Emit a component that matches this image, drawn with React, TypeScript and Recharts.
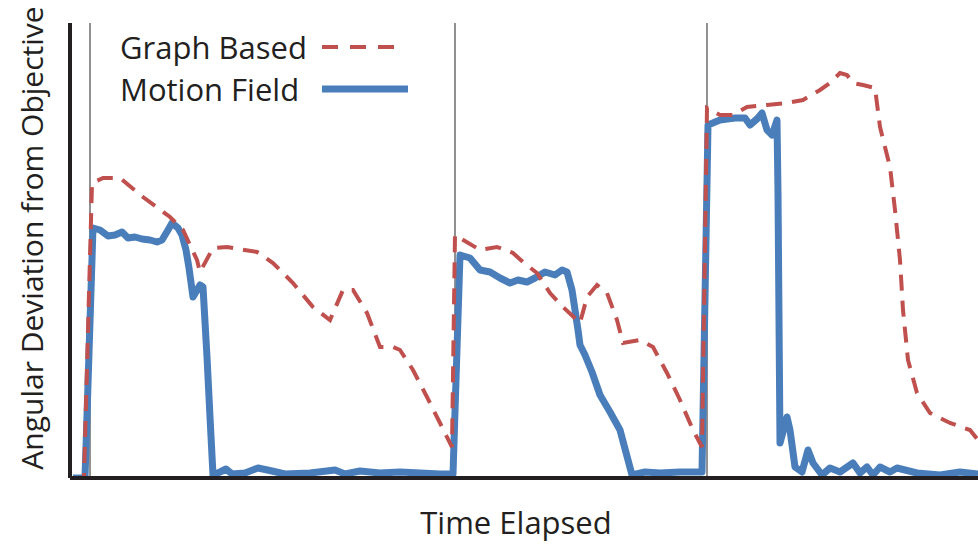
import { LineChart, Line, XAxis, YAxis, ReferenceLine, Label } from "recharts";

// time (arbitrary units) and angular deviation (arbitrary units)
const motionTime = [
  0.3, 1.5, 2.3, 3.0, 3.8, 4.5, 5.2, 5.8, 6.5, 7.2, 8.0, 8.7, 9.2, 9.8, 10.2, 10.8, 11.2, 11.6, 11.9, 12.3,
  13.0, 13.3, 13.7, 14.0, 14.3, 15.0, 15.6, 16.2, 17.5, 18.8, 20.2, 21.5, 24, 26.5, 27.5, 29, 31, 33, 35, 37,
  38.1, 38.3, 39.0, 40, 41, 42, 43, 44, 44.8, 45.7, 46.5, 47.5, 48.5, 49.2, 49.7, 50.2, 50.8, 51, 51.5, 52.2,
  53, 54, 55, 56.2, 57.5, 59, 61, 63.2, 63.8, 65, 66.5, 67.5, 68, 68.8, 69.2, 69.7, 70.2, 70.7, 70.8, 71,
  71.7, 72, 72.5, 73.2, 73.8, 74.3, 75.2, 76, 77, 78.3, 79, 79.7, 80.3, 81, 82, 82.7, 84.7, 87, 89, 90.8,
];
const motionValue = [
  0, 0, 50, 49.6, 48.4, 48.6, 49.2, 48, 48.2, 47.8, 47.6, 47.2, 47.6, 49.6, 51, 50, 48.6, 45.6, 42, 36.2,
  38.6, 38.2, 24.2, 12.2, 0.6, 1.2, 1.8, 0.8, 1, 2, 1.4, 0.8, 1, 1.6, 0.8, 1.4, 1, 1.2, 1, 0.8,
  0.8, 0.8, 44.6, 44, 41.6, 41.2, 40, 39, 39.6, 39.2, 40, 41.2, 40.6, 41.6, 41.2, 37.6, 29.6, 26.6, 24.6, 21.2,
  16.6, 13.2, 9.6, 0.6, 1.2, 1, 1.2, 1.2, 70.6, 71.6, 72, 72, 70.6, 72, 73, 69.6, 68.6, 71.6, 57, 7,
  12.2, 9.6, 2.2, 1.2, 5.6, 3, 0.6, 2, 1.2, 3, 1, 2.2, 0.6, 2.2, 1.2, 2, 1, 0.6, 1.2, 0.8,
];

const graphTime = [
  0.3, 1.4, 2.2, 3.3, 5, 7.3, 10, 11.3, 12.7, 13, 14.3, 15.7, 18.7, 20.3, 22.3, 24.3, 26, 27.3, 28.3, 29.7,
  31, 32.3, 33, 34.3, 35.7, 37, 38.2, 38.5, 41, 42.7, 44.3, 45.3, 46.7, 48, 49.3, 51, 51.7, 52.7, 53.7, 54.7,
  55.3, 57, 58.3, 59.7, 61, 62.3, 63.2, 63.7, 65, 66.3, 67.7, 69.7, 71.7, 73.3, 75, 76, 77, 77.7, 78.3, 79.3,
  80.5, 81, 82, 82.5, 83, 83.3, 83.8, 84.7, 86, 88, 90, 90.8,
];
const graphValue = [
  0, 0, 59, 60, 60, 56.2, 52.2, 49.6, 43.6, 41.2, 46, 46.2, 45.2, 43, 39, 34.2, 31.6, 37.6, 37.6, 33,
  26.2, 26.2, 25.6, 21.6, 16.2, 11, 6.2, 48.6, 45.6, 46.2, 45, 43.2, 41, 37, 34.2, 31, 36.2, 38.6, 37, 31.6,
  27, 27.6, 26.2, 21, 15.6, 9.6, 6.2, 74, 72.6, 72.6, 74.2, 74.6, 75, 75.6, 77.6, 79, 81, 80.6, 79, 78.6,
  78, 70.2, 62.2, 53.6, 43.6, 33.6, 23.6, 17, 13, 11, 9.6, 7.6,
];

// moments where a new objective is set
const resetTimes = [2, 38.5, 63.7];

const seriesNames = ["Graph Based", "Motion Field"];

const motionData = motionTime.map((t, i) => ({ t, v: motionValue[i] }));
const graphData = graphTime.map((t, i) => ({ t, v: graphValue[i] }));

const RED = "#c0504d";
const BLUE = "#4a7ebb";
const AXIS = "#231f20";
const FONT = "'Open Sans', sans-serif";

function ChartLegend() {
  return (
    <svg width={320} height={110} style={{ position: "absolute", left: 110, top: 0 }}>
      <text x={10} y={59} fontSize={31} fontFamily={FONT} fill={AXIS}>
        {seriesNames[0]}
      </text>
      <line x1={212} y1={47} x2={292} y2={47} stroke={RED} strokeWidth={4} strokeDasharray="16 12" />
      <text x={10} y={101} fontSize={31} fontFamily={FONT} fill={AXIS}>
        {seriesNames[1]}
      </text>
      <line x1={212} y1={89} x2={298} y2={89} stroke={BLUE} strokeWidth={7} />
    </svg>
  );
}

export default function App() {
  return (
    <div style={{ position: "absolute", left: 0, top: 0, width: 978, height: 544, background: "#fff" }}>
      <LineChart width={978} height={544} margin={{ top: 23, right: 0, bottom: 0, left: 0 }}>
        <XAxis
          type="number"
          dataKey="t"
          domain={[0, 90.8]}
          allowDataOverflow
          tick={false}
          tickLine={false}
          axisLine={{ stroke: AXIS, strokeWidth: 4 }}
          height={66}
        >
          <Label
            content={() => (
              <text x={516} y={534} textAnchor="middle" fontSize={31} fontFamily={FONT} fill={AXIS}>
                Time Elapsed
              </text>
            )}
          />
        </XAxis>
        <YAxis
          type="number"
          domain={[0, 91]}
          allowDataOverflow
          tick={false}
          tickLine={false}
          axisLine={{ stroke: AXIS, strokeWidth: 4 }}
          width={70}
        >
          <Label
            content={() => (
              <text
                x={31}
                y={238}
                textAnchor="middle"
                dominantBaseline="central"
                transform="rotate(-90 31 238)"
                fontSize={30}
                fontFamily={FONT}
                fill={AXIS}
              >
                Angular Deviation from Objective
              </text>
            )}
          />
        </YAxis>
        {resetTimes.map((x) => (
          <ReferenceLine key={x} x={x} stroke="#6d6d6d" strokeWidth={1.5} />
        ))}
        <Line
          data={motionData}
          dataKey="v"
          name={seriesNames[1]}
          type="linear"
          stroke={BLUE}
          strokeWidth={7}
          strokeLinejoin="round"
          dot={false}
          isAnimationActive={false}
        />
        <Line
          data={graphData}
          dataKey="v"
          name={seriesNames[0]}
          type="linear"
          stroke={RED}
          strokeWidth={4}
          strokeDasharray="16 10"
          dot={false}
          isAnimationActive={false}
        />
      </LineChart>
      <ChartLegend />
    </div>
  );
}
